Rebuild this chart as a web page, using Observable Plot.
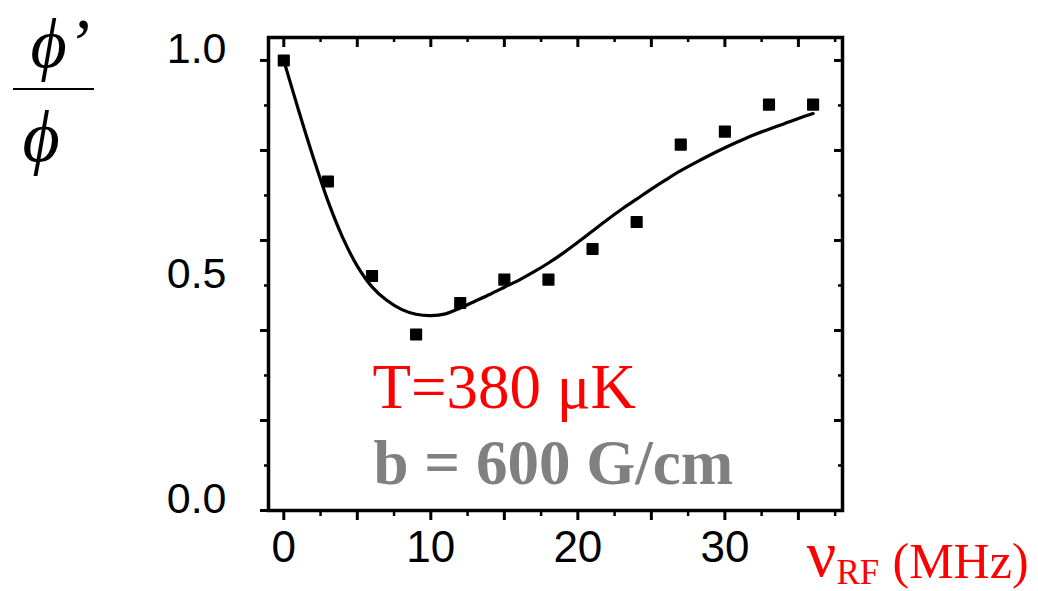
<!DOCTYPE html>
<html><head><meta charset="utf-8">
<script src="https://cdn.jsdelivr.net/npm/d3@7"></script>
<script src="https://cdn.jsdelivr.net/npm/@observablehq/plot@0.6"></script>
<style>
body{margin:0;background:#fff;}
#wrap{width:1038px;height:591px;}
</style></head><body><div id="wrap"></div>
<script>
// measured data points (RF frequency in MHz, ratio phi'/phi)
const freq = [0, 3, 6, 9, 12, 15, 18, 21, 24, 27, 30, 33, 36];
const ratio = [1.0, 0.731, 0.521, 0.391, 0.461, 0.513, 0.513, 0.581, 0.641, 0.813, 0.842, 0.902, 0.902];
// fitted curve
const fitFreq = [0, 1, 2, 3, 4, 5, 6, 7, 8, 9, 10, 11, 12, 13, 14, 15, 16, 17, 18, 19, 20, 21, 22, 23, 24, 25, 26, 27, 28, 29, 30, 31, 32, 33, 34, 35, 36];
const fitRatio = [1.0, 0.89, 0.785, 0.688, 0.607, 0.543, 0.497, 0.467, 0.447, 0.436, 0.433, 0.437, 0.45, 0.465, 0.48, 0.496, 0.512, 0.53, 0.55, 0.572, 0.596, 0.621, 0.646, 0.67, 0.692, 0.714, 0.735, 0.755, 0.773, 0.79, 0.806, 0.821, 0.835, 0.847, 0.859, 0.871, 0.882];
// ticks
const xMajorTicks = [0, 5, 10, 15, 20, 25, 30, 35];
const xMinorTicks = [2.5, 7.5, 12.5, 17.5, 22.5, 27.5, 32.5, 37.5];
const xLabelTicks = [0, 10, 20, 30];
const yMajorTicks = [0, 0.2, 0.4, 0.6, 0.8, 1.0];
const yMinorTicks = [0.1, 0.3, 0.5, 0.7, 0.9];
const yLabelTicks = [0, 0.5, 1.0];
// texts
const tempText = "T=380 μK";
const gradText = "b = 600 G/cm";

const points = freq.map((f, i) => ({f, r: ratio[i]}));
const fit = fitFreq.map((f, i) => ({f, r: fitRatio[i]}));

const W = 1038, H = 591, mL = 268, mR = 196, mT = 37, mB = 81;
const fw = W - mL - mR, fh = H - mT - mB;
const serif = "Liberation Serif, Times New Roman, serif";

const chart = Plot.plot({
  width: W, height: H,
  marginLeft: mL, marginRight: mR, marginTop: mT, marginBottom: mB,
  x: {domain: [-1.04, 38]},
  y: {domain: [0, 1.051]},
  style: {fontFamily: "Liberation Sans, Arial, sans-serif", color: "black", background: "white", overflow: "visible"},
  marks: [
    // outward bottom ticks
    Plot.axisX(xMajorTicks, {anchor: "bottom", tickSize: 10, strokeWidth: 3, tickFormat: () => "", label: null}),
    Plot.axisX(xMinorTicks, {anchor: "bottom", tickSize: 6, strokeWidth: 2.5, tickFormat: () => "", label: null}),
    // inward top ticks
    Plot.axisX(xMajorTicks, {anchor: "bottom", dy: -fh, tickSize: 10, strokeWidth: 3, tickFormat: () => "", label: null}),
    Plot.axisX(xMinorTicks, {anchor: "bottom", dy: -fh, tickSize: 5, strokeWidth: 2.5, tickFormat: () => "", label: null}),
    // outward left ticks
    Plot.axisY(yMajorTicks, {anchor: "left", tickSize: 8, strokeWidth: 3, tickFormat: () => "", label: null}),
    Plot.axisY(yMinorTicks, {anchor: "left", tickSize: 4, strokeWidth: 2.5, tickFormat: () => "", label: null}),
    // inward right ticks
    Plot.axisY(yMajorTicks, {anchor: "left", dx: fw, tickSize: 8, strokeWidth: 3, tickFormat: () => "", label: null}),
    Plot.axisY(yMinorTicks, {anchor: "left", dx: fw, tickSize: 4, strokeWidth: 2.5, tickFormat: () => "", label: null}),
    // tick labels
    Plot.axisX(xLabelTicks, {anchor: "bottom", tickSize: 0, tickPadding: 20, fontSize: 44, tickFormat: d3.format("d"), label: null}),
    Plot.axisY(yLabelTicks, {anchor: "left", tickSize: 0, tickPadding: 42, fontSize: 43, dy: -11, tickFormat: d3.format(".1f"), label: null}),
    Plot.frame({stroke: "black", strokeWidth: 3.5}),
    // fit curve and data
    Plot.line(fit, {x: "f", y: "r", stroke: "black", strokeWidth: 3.2, curve: "catmull-rom"}),
    Plot.dot(points, {x: "f", y: "r", symbol: "square", r: 6, fill: "black", stroke: "black", strokeWidth: 1.5, strokeLinejoin: "round"}),
    // annotations inside the frame
    Plot.text([tempText], {frameAnchor: "top-left", dx: 104, dy: 370, text: d => d, textAnchor: "start", lineAnchor: "bottom", fontSize: 63, fontFamily: serif, fill: "#ff0000"}),
    Plot.text([gradText], {frameAnchor: "top-left", dx: 105, dy: 446, text: d => d, textAnchor: "start", lineAnchor: "bottom", fontSize: 63, fontWeight: "bold", fontFamily: serif, fill: "#808080"}),
    // x axis title: ν_RF (MHz)
    Plot.text(["ν"], {frameAnchor: "top-left", dx: 806 - mL, dy: 575 - mT, text: d => d, textAnchor: "start", lineAnchor: "bottom", fontSize: 66, fontFamily: serif, fill: "#ff0000"}),
    Plot.text(["RF"], {frameAnchor: "top-left", dx: 836 - mL, dy: 583 - mT, text: d => d, textAnchor: "start", lineAnchor: "bottom", fontSize: 35, fontFamily: serif, fill: "#ff0000"}),
    Plot.text(["(MHz)"], {frameAnchor: "top-left", dx: 892 - mL, dy: 577 - mT, text: d => d, textAnchor: "start", lineAnchor: "bottom", fontSize: 50, fontFamily: serif, fill: "#ff0000"}),
    // y axis title: ϕ'/ϕ
    Plot.text(["ϕ’"], {frameAnchor: "top-left", dx: 30 - mL, dy: 66 - mT, text: d => d, textAnchor: "start", lineAnchor: "bottom", fontSize: 70, fontStyle: "italic", fontFamily: serif, fill: "black"}),
    Plot.text(["ϕ"], {frameAnchor: "top-left", dx: 22 - mL, dy: 160 - mT, text: d => d, textAnchor: "start", lineAnchor: "bottom", fontSize: 72, fontStyle: "italic", fontFamily: serif, fill: "black"}),
    () => {
      const l = d3.create("svg:line").attr("x1", 13).attr("x2", 94).attr("y1", 89).attr("y2", 89)
        .attr("stroke", "black").attr("stroke-width", 2);
      return l.node();
    }
  ]
});
document.getElementById("wrap").appendChild(chart);
</script></body></html>
